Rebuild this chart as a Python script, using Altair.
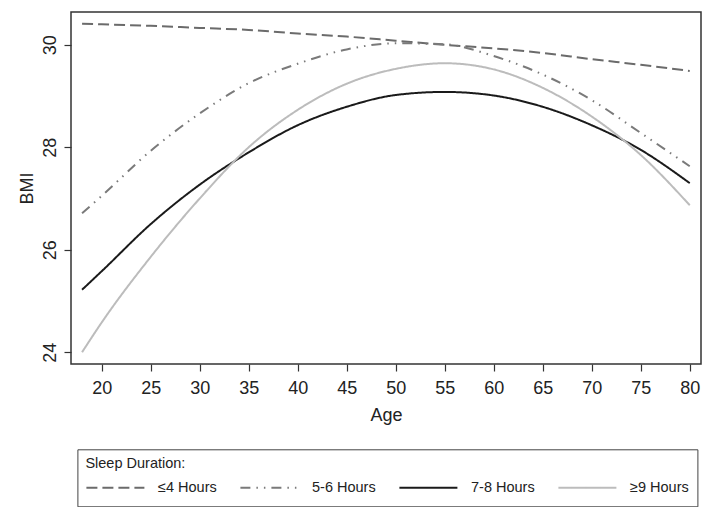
import altair as alt
import pandas as pd

# ---- data ----
ages = [18, 20, 25, 30, 35, 40, 45, 50, 55, 60, 65, 70, 75, 80]
bmi_le4 = [30.41, 30.40, 30.37, 30.33, 30.29, 30.22, 30.16, 30.08, 30.00, 29.93, 29.84, 29.72, 29.61, 29.49]
bmi_5_6 = [26.71, 27.05, 27.93, 28.66, 29.25, 29.63, 29.91, 30.03, 30.01, 29.78, 29.42, 28.92, 28.28, 27.63]
bmi_7_8 = [25.22, 25.58, 26.50, 27.27, 27.90, 28.43, 28.79, 29.02, 29.08, 29.01, 28.79, 28.43, 27.95, 27.30]
bmi_ge9 = [24.00, 24.58, 25.86, 27.00, 28.00, 28.73, 29.24, 29.53, 29.64, 29.52, 29.16, 28.60, 27.85, 26.87]

groups = ["≤4 Hours", "5-6 Hours", "7-8 Hours", "≥9 Hours"]
x_ticks = [20, 25, 30, 35, 40, 45, 50, 55, 60, 65, 70, 75, 80]
y_ticks = [24, 26, 28, 30]

colors = ["#6b6b6b", "#7a7a7a", "#1a1a1a", "#bcbcbc"]
dashes = [[11, 5], [10, 6, 1.5, 6, 1.5, 6], [1, 0], [1, 0]]

rows = []
for g, vals in zip(groups, [bmi_le4, bmi_5_6, bmi_7_8, bmi_ge9]):
    for a, v in zip(ages, vals):
        rows.append({"Age": a, "BMI": v, "Sleep": g})
df = pd.DataFrame(rows)

FONT = "Liberation Sans"

legend = alt.Legend(
    title="Sleep Duration:",
    orient="none",
    legendX=6.4,
    legendY=437.3,
    direction="horizontal",
    columns=4,
    symbolType="stroke",
    symbolSize=3364,
    symbolStrokeWidth=2,
    clipHeight=20,
    columnPadding=22,
    labelOffset=12.6,
    padding=8,
    strokeColor="#444444",
    fillColor="white",
    titlePadding=6,
    titleFont=FONT,
    titleFontSize=14.5,
    titleFontWeight="normal",
    titleColor="#222222",
    labelFont=FONT,
    labelFontSize=14.5,
    labelColor="#222222",
)

chart = alt.Chart(df).mark_line(strokeWidth=2, interpolate="monotone").encode(
    x=alt.X(
        "Age:Q",
        scale=alt.Scale(domain=[16.87, 81.15], nice=False, zero=False),
        axis=alt.Axis(values=x_ticks, title="Age", tickSize=7, labelPadding=8,
                      titlePadding=9, labelFlush=False),
    ),
    y=alt.Y(
        "BMI:Q",
        scale=alt.Scale(domain=[23.77, 30.64], nice=False, zero=False),
        axis=alt.Axis(values=y_ticks, title="BMI", tickSize=7, labelAngle=270,
                      labelAlign="center", labelBaseline="bottom", labelPadding=5,
                      titlePadding=5, labelFlush=False),
    ),
    color=alt.Color("Sleep:N", scale=alt.Scale(domain=groups, range=colors), legend=legend),
    strokeDash=alt.StrokeDash("Sleep:N", scale=alt.Scale(domain=groups, range=dashes), legend=legend),
).properties(
    width=630,
    height=352,
    autosize=alt.AutoSizeParams(type="none"),
    padding={"left": 63, "top": 4, "right": 4, "bottom": 143},
).configure_view(
    stroke="#333333",
    strokeWidth=1.5,
).configure_axis(
    domain=False,
    grid=False,
    tickColor="#333333",
    tickWidth=1.2,
    labelFont=FONT,
    labelFontSize=18,
    labelColor="#222222",
    titleFont=FONT,
    titleFontSize=18,
    titleFontWeight="normal",
    titleColor="#222222",
)

chart.save("out.html", embed_options={"renderer": "svg", "actions": False})
